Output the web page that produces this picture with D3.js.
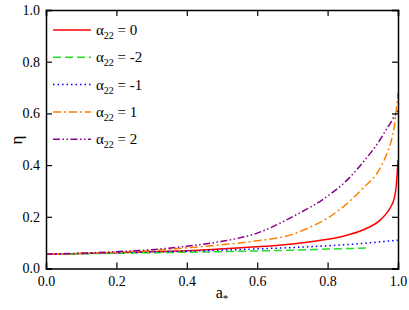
<!DOCTYPE html>
<html><head><meta charset="utf-8">
<script src="https://cdn.jsdelivr.net/npm/d3@7"></script>
<style>body{margin:0;background:#fff}svg{display:block}
svg text{font-family:"Liberation Serif","DejaVu Serif",serif !important;}</style>
</head><body><svg id="c" width="409" height="310"></svg>
<script>
const xTicks = [0.0, 0.2, 0.4, 0.6, 0.8, 1.0];
const yTicks = [0.0, 0.2, 0.4, 0.6, 0.8, 1.0];
const legendLabels = ["0", "-2", "-1", "1", "2"];

const aRed = [0, 0.1, 0.2, 0.3, 0.4, 0.5, 0.6, 0.7, 0.8, 0.85, 0.9, 0.95, 0.97, 0.98, 0.99, 0.995, 1.0];
const etaRed = [0.055, 0.058, 0.061, 0.065, 0.069, 0.076, 0.084, 0.095, 0.113, 0.127, 0.149, 0.188, 0.218, 0.24, 0.275, 0.32, 0.42];

const aGreen = [0, 0.1, 0.2, 0.3, 0.4, 0.5, 0.6, 0.7, 0.8, 0.91];
const etaGreen = [0.055, 0.057, 0.059, 0.061, 0.063, 0.065, 0.068, 0.071, 0.075, 0.079];

const aBlue = [0, 0.1, 0.2, 0.3, 0.4, 0.5, 0.6, 0.7, 0.8, 0.9, 1.0];
const etaBlue = [0.055, 0.058, 0.061, 0.064, 0.067, 0.071, 0.076, 0.081, 0.088, 0.097, 0.110];

const aOrange = [0, 0.1, 0.2, 0.3, 0.4, 0.5, 0.6, 0.7, 0.75, 0.8, 0.85, 0.9, 0.95, 0.97, 0.98, 0.99, 1.0];
const etaOrange = [0.055, 0.058, 0.063, 0.069, 0.080, 0.092, 0.107, 0.132, 0.16, 0.195, 0.245, 0.31, 0.39, 0.45, 0.49, 0.555, 0.68];

const aPurple = [0, 0.1, 0.2, 0.3, 0.4, 0.5, 0.6, 0.7, 0.8, 0.85, 0.9, 0.95, 0.97, 0.98, 0.99, 1.0];
const etaPurple = [0.055, 0.059, 0.065, 0.073, 0.086, 0.105, 0.137, 0.20, 0.28, 0.335, 0.41, 0.50, 0.545, 0.565, 0.59, 0.61];

const series = [
  {a: aRed, eta: etaRed, color: "#ff0000", dash: null},
  {a: aGreen, eta: etaGreen, color: "#22dd22", dash: "8,4"},
  {a: aBlue, eta: etaBlue, color: "#0000ff", dash: "1.5,3"},
  {a: aOrange, eta: etaOrange, color: "#ff8000", dash: "8,3,2,3"},
  {a: aPurple, eta: etaPurple, color: "#8b008b", dash: "7,2.5,1.5,2.5,1.5,2.5"}
];

const svg = d3.select("#c");
const L = 46, R = 398, T = 10, B = 268.5;
const x = d3.scaleLinear().domain([0, 1]).range([L, R]);
const y = d3.scaleLinear().domain([0, 1]).range([B, T]);
const font = "Liberation Serif";

const plot = svg.append("g");
svg.append("clipPath").attr("id", "clp").append("rect")
  .attr("x", L).attr("y", T).attr("width", R - L).attr("height", B - T);

const line = d3.line().x(d => x(d[0])).y(d => y(d[1])).curve(d3.curveMonotoneX);
series.forEach(s => {
  const pts = s.a.map((v, i) => [v, s.eta[i]]);
  plot.append("path").attr("d", line(pts)).attr("fill", "none")
    .attr("stroke", s.color).attr("stroke-width", 1.5)
    .attr("stroke-dasharray", s.dash).attr("clip-path", "url(#clp)");
});

const minor = d3.range(0, 1.0001, 0.04);
function styleAxis(g) {
  g.attr("font-family", font);
  g.selectAll(".domain").attr("stroke-width", 1.5);
  g.selectAll(".tick line").attr("stroke-width", 1.2);
  g.selectAll("text").attr("font-size", 14).attr("fill", "#000");
}
const xb = svg.append("g").attr("transform", `translate(0,${B})`);
xb.call(d3.axisBottom(x).tickValues(minor).tickSize(-3).tickFormat(""));
xb.call(d3.axisBottom(x).tickValues(xTicks).tickSize(-6).tickFormat(d3.format(".1f")).tickPadding(8));
styleAxis(xb);
const xtp = svg.append("g").attr("transform", `translate(0,${T})`);
xtp.call(d3.axisTop(x).tickValues(minor).tickSize(-3).tickFormat(""));
xtp.call(d3.axisTop(x).tickValues(xTicks).tickSize(-6).tickFormat(""));
styleAxis(xtp);
const yl = svg.append("g").attr("transform", `translate(${L},0)`);
yl.call(d3.axisLeft(y).tickValues(minor).tickSize(-3).tickFormat(""));
yl.call(d3.axisLeft(y).tickValues(yTicks).tickSize(-6).tickFormat(d3.format(".1f")).tickPadding(6));
styleAxis(yl);
const yr = svg.append("g").attr("transform", `translate(${R},0)`);
yr.call(d3.axisRight(y).tickValues(minor).tickSize(-3).tickFormat(""));
yr.call(d3.axisRight(y).tickValues(yTicks).tickSize(-6).tickFormat(""));
styleAxis(yr);

// Axis titles
const xt = svg.append("text").attr("x", 222).attr("y", 298).attr("text-anchor", "middle")
  .attr("font-family", font).attr("font-size", 16);
xt.append("tspan").text("a");
xt.append("tspan").attr("dy", 4).attr("font-size", 11).text("*");

svg.append("text").attr("transform", "translate(22,140) rotate(-90)").attr("text-anchor", "middle")
  .attr("font-family", font).attr("font-size", 17).text("η");

// Legend
series.forEach((s, i) => {
  const ly = 30 + i * 27.3;
  svg.append("line").attr("x1", 53).attr("x2", 91).attr("y1", ly).attr("y2", ly)
    .attr("stroke", s.color).attr("stroke-width", 1.5).attr("stroke-dasharray", s.dash);
  const t = svg.append("text").attr("x", 96).attr("y", ly + 5)
    .attr("font-family", font).attr("font-size", 15);
  t.append("tspan").text("α");
  t.append("tspan").attr("dy", 4).attr("font-size", 10).text("22");
  t.append("tspan").attr("dy", -4).text(" = " + legendLabels[i]);
});
</script></body></html>
